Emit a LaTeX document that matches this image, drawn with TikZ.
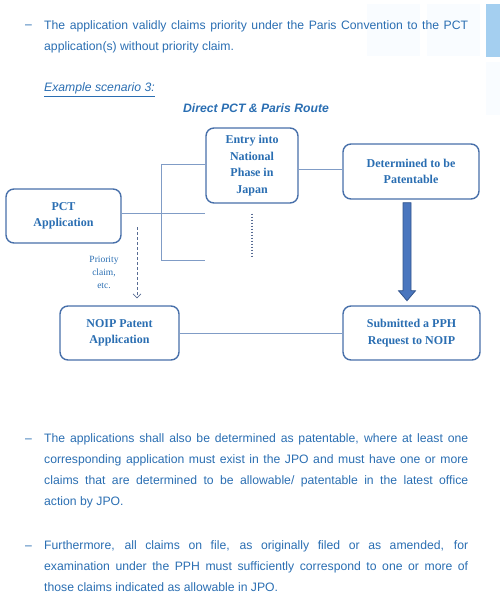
\documentclass[tikz,border=0pt]{standalone}
\usepackage{fontspec}
\setmainfont{Liberation Serif}
\newfontfamily\bodyfont{Liberation Sans}
\usetikzlibrary{arrows.meta, positioning}

\definecolor{textblue}{RGB}{42,110,178}
\definecolor{boxedge}{RGB}{72,112,170}
\definecolor{linkblue}{RGB}{128,156,198}
\definecolor{dotgrey}{RGB}{88,108,148}
\definecolor{arrowfill}{RGB}{74,118,190}
\definecolor{arrowedge}{RGB}{50,84,140}
\definecolor{decoblue}{RGB}{164,207,240}
\definecolor{decofaint}{RGB}{249,252,255}

\begin{document}
\begin{tikzpicture}[x=1pt, y=-1pt,
    box/.style={rectangle, rounded corners=8pt, draw=boxedge, line width=1.4pt, fill=white, align=center, text=textblue, inner sep=0pt, font=\bfseries\fontsize{12}{16.5}\selectfont},
    para/.style={anchor=north west, inner sep=0pt, text width=424pt, align=justify, text=textblue, font=\bodyfont\fontsize{12.2}{21}\selectfont},
    bullet/.style={anchor=base west, inner sep=0pt, text=textblue, font=\bodyfont\fontsize{12.2}{21}\selectfont},
    note/.style={align=center, inner sep=0pt, text=textblue, font=\fontsize{9.5}{13}\selectfont},
    link/.style={draw=linkblue, line width=1pt},
    dotline/.style={draw=dotgrey, line width=1.8pt, dash pattern=on 1.6pt off 1.4pt},
    claimarrow/.style={draw=dotgrey, line width=0.7pt, dash pattern=on 3pt off 2pt, -{Straight Barb[length=4pt, width=8pt]}},
    bigarrow/.style={fill=arrowfill, draw=arrowedge, line width=0.8pt, line join=miter}
]

\path[use as bounding box] (0,0) rectangle (500,610);

% faint page decoration on the right
\fill[decofaint] (367,4) rectangle (420,56);
\fill[decofaint] (427,4) rectangle (480,56);
\fill[decofaint] (486,62) rectangle (500,115);
\fill[decoblue] (486,4) rectangle (500,57);

% text above the diagram
\node[bullet] (d1) at (25,29) {\textendash};
\node[para] (p1) at (44,20)
{\noindent The application validly claims priority under the Paris Convention to the PCT\linebreak
application(s) without priority claim.};

\node[bullet, font=\bodyfont\itshape\fontsize{12.2}{21}\selectfont] (ex) at (44,92)
{\underline{Example scenario 3:}};

\node[anchor=base, inner sep=0pt, text=textblue, font=\bodyfont\bfseries\itshape\fontsize{12.2}{15}\selectfont] (title) at (256,112)
{Direct PCT \& Paris Route};

% boxes
\node[box, minimum width=92pt, minimum height=75pt] (entry) at (252,165.5)
{Entry into\\National\\Phase in\\Japan};
\node[box, minimum width=136pt, minimum height=55pt] (patent) at (411,171.5)
{Determined to be\\Patentable};
\node[box, minimum width=115pt, minimum height=54pt] (pct) at (63.5,216)
{PCT\\Application};
\node[box, minimum width=119pt, minimum height=54pt] (noip) at (119.5,333)
{NOIP Patent\\Application};
\node[box, minimum width=137pt, minimum height=54pt] (pph) at (411.5,333)
{Submitted a PPH\\Request to NOIP};

\node[note] (prio) at (104,272) {Priority\\claim,\\etc.};

% connectors
\coordinate (fork) at (161,260);
\coordinate (claim) at (137,227);

\draw[link] ([yshift=2pt]patent.west) -- ([yshift=2pt]patent.west -| entry.east);
\draw[link] ([yshift=2.5pt]pct.east) -- ([yshift=2.5pt]pct.east -| entry.west);
\draw[link] ([yshift=1.5pt]entry.west) -| (fork) -- (fork -| entry.west);
\draw[link] (noip.east) -- (pph.west);

\draw[dotline] ([yshift=-10pt]entry.south) -- ++(0,44);
\draw[claimarrow, shorten >=7pt] (claim) -- (claim |- noip.north);

\draw[bigarrow] ([xshift=-8pt,yshift=-3pt]patent.south) -- ++(0,88) -- ++(-4.5,0)
  -- ++(8.5,10) -- ++(8.5,-10) -- ++(-4.5,0) -- ++(0,-88) -- cycle;

% text below the diagram
\node[bullet] (d2) at (25,442) {\textendash};
\node[para] (p2) at (44,433)
{\noindent The applications shall also be determined as patentable, where at least one\linebreak
corresponding application must exist in the JPO and must have one or more\linebreak
claims that are determined to be allowable/ patentable in the latest office\linebreak
action by JPO.};

\node[bullet] (d3) at (25,549) {\textendash};
\node[para] (p3) at (44,540)
{\noindent Furthermore, all claims on file, as originally filed or as amended, for\linebreak
examination under the PPH must sufficiently correspond to one or more of\linebreak
those claims indicated as allowable in JPO.};

\end{tikzpicture}
\end{document}
